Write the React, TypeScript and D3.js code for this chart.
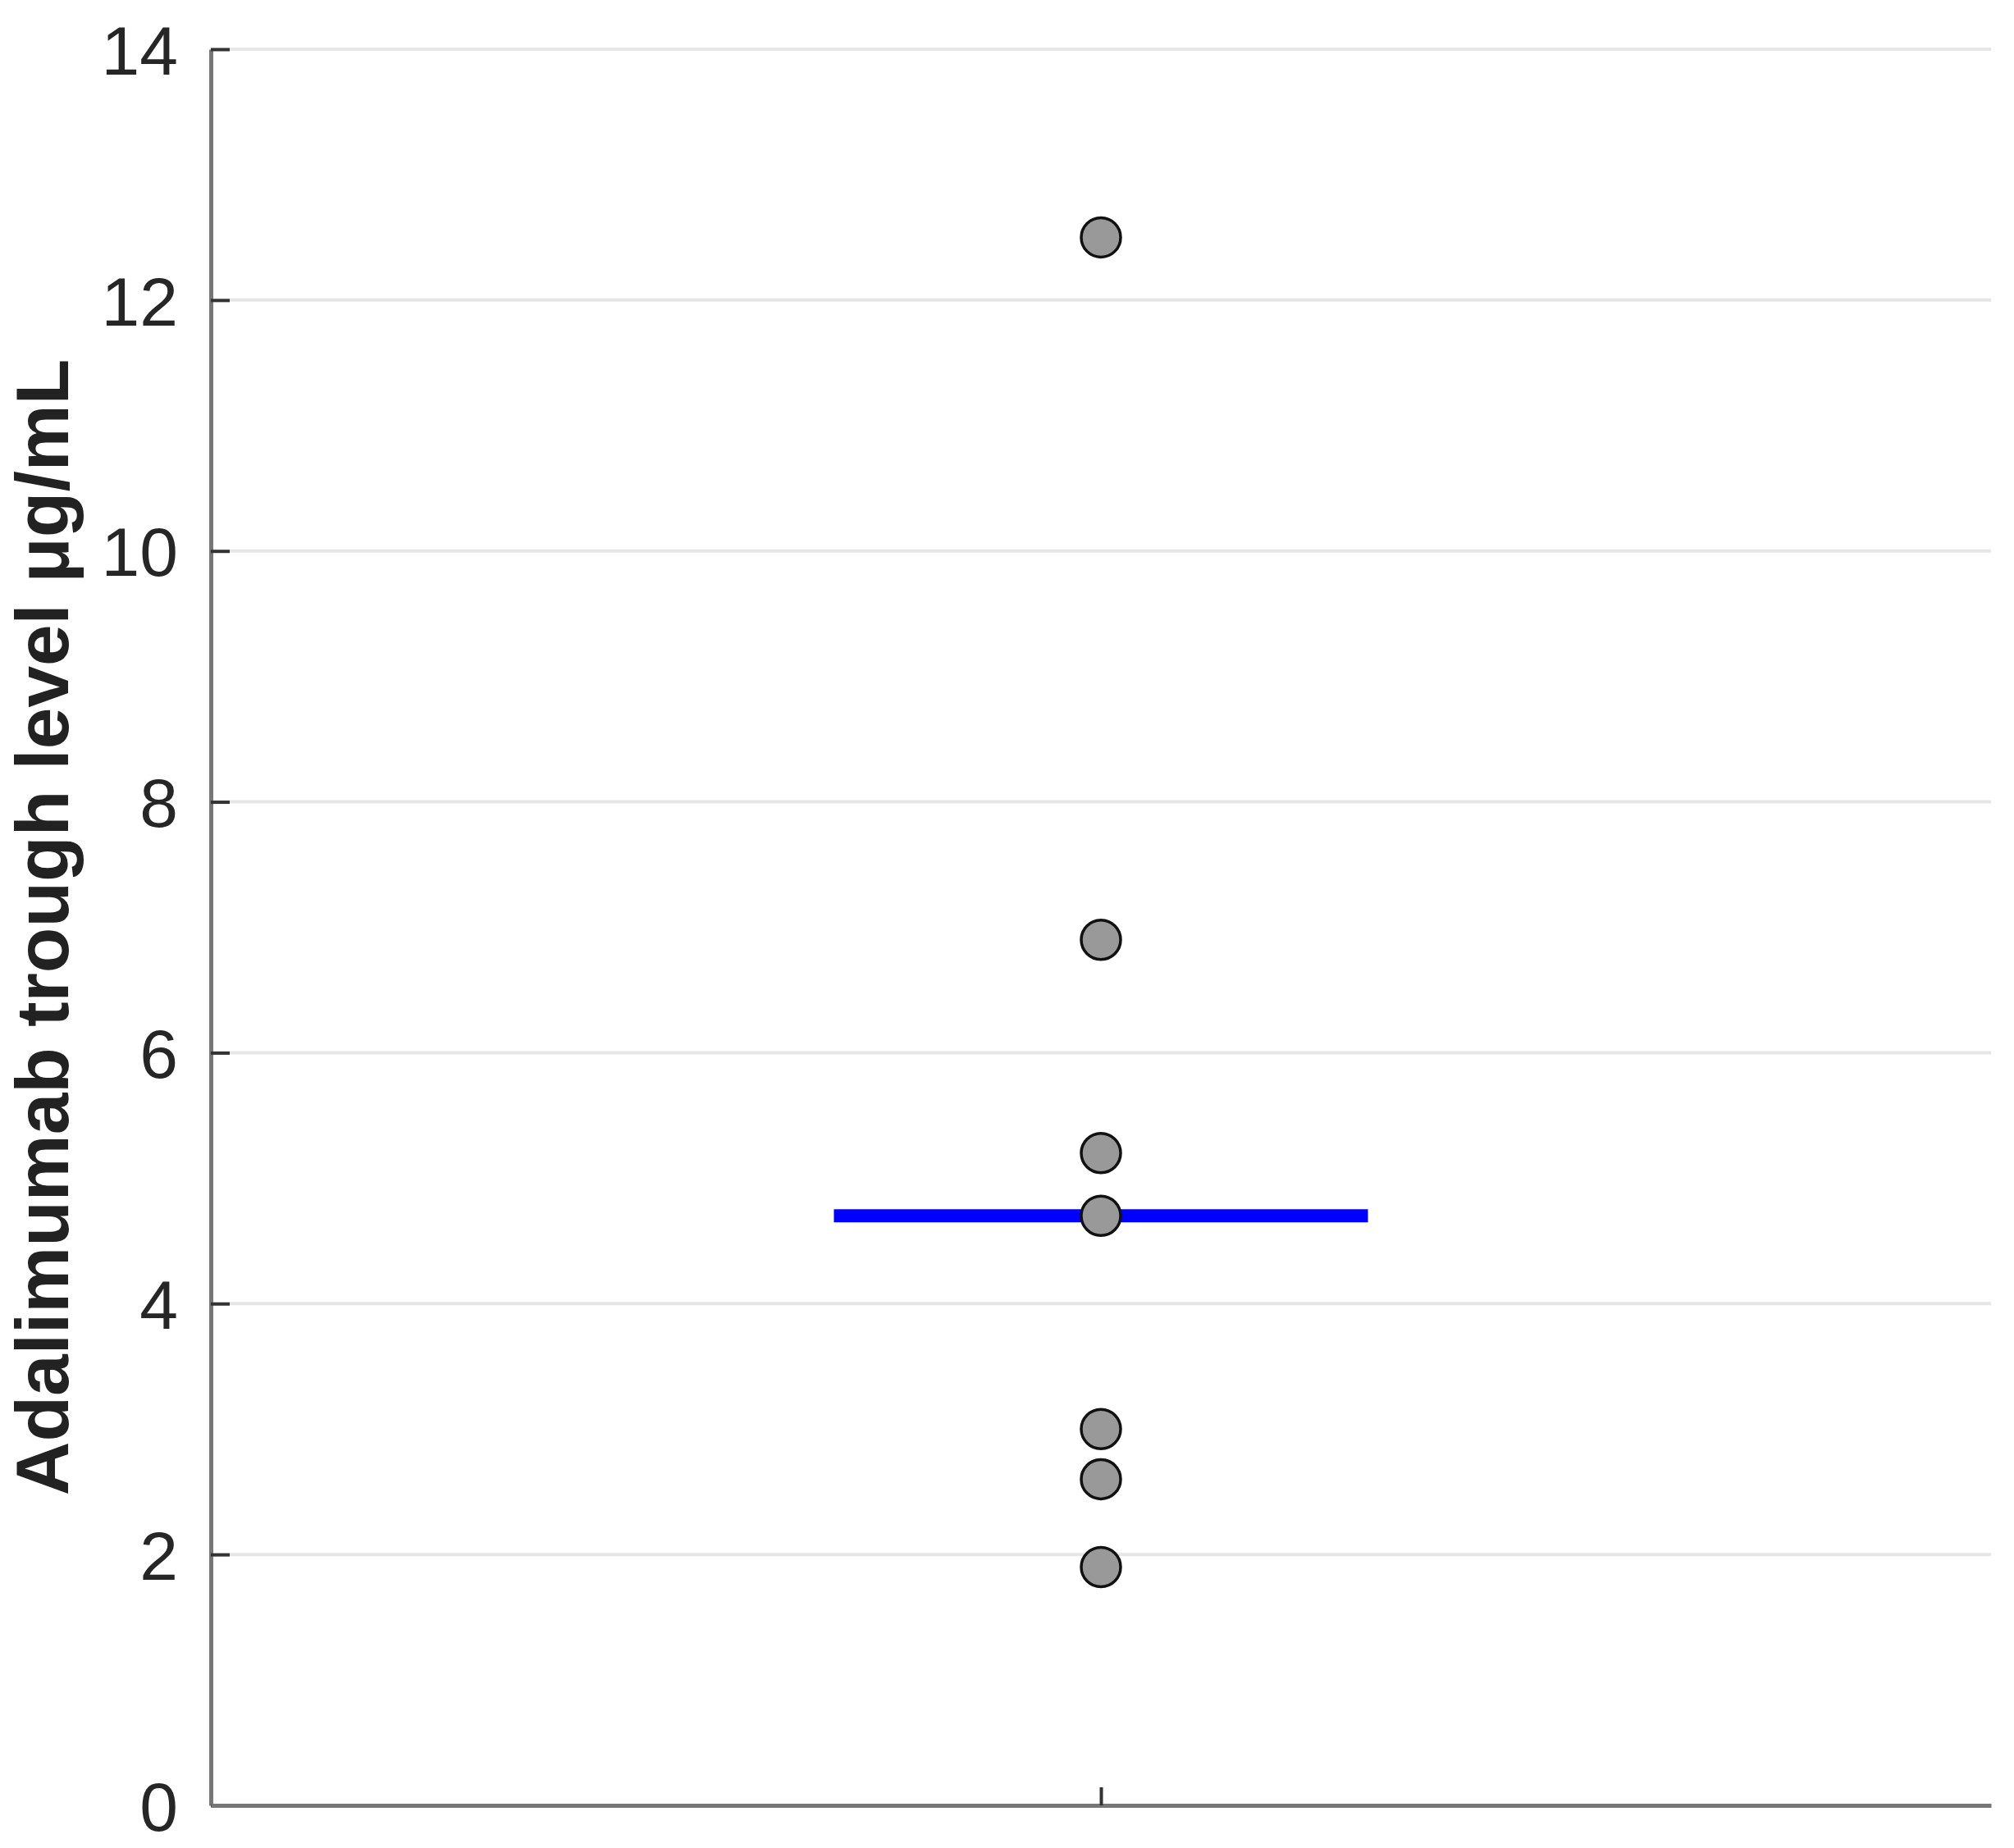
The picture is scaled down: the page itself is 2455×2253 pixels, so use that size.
import React, { useEffect, useRef } from 'react';
import * as d3 from 'd3';

// trough levels (µg/mL)
const troughLevels = [12.5, 6.9, 5.2, 4.7, 3.0, 2.6, 1.9];
const groupPosition = [1];
const yTicks = [0, 2, 4, 6, 8, 10, 12, 14];
const yLabel = 'Adalimumab trough level μg/mL';

const W = 2455;
const H = 2253;

export default function App() {
  const ref = useRef<SVGSVGElement>(null);

  useEffect(() => {
    const svg = d3.select(ref.current);
    svg.selectAll('*').remove();

    const x = d3.scaleLinear().domain([0, 2]).range([257, 2427]);
    const y = d3.scaleLinear().domain([0, 14]).range([2201, 60]);
    const font = '"Liberation Sans", Arial, sans-serif';

    // grid
    svg
      .append('g')
      .selectAll('line')
      .data(yTicks.filter((t) => t > 0))
      .enter()
      .append('line')
      .attr('x1', x(0))
      .attr('x2', x(2))
      .attr('y1', (d) => y(d))
      .attr('y2', (d) => y(d))
      .style('stroke', '#e6e6e6')
      .style('stroke-width', 4);

    // y axis, ticks point inward
    const yAxis = svg
      .append('g')
      .attr('transform', `translate(${x(0)},0)`)
      .call(d3.axisLeft(y).tickValues(yTicks).tickSize(-23).tickPadding(40).tickSizeOuter(0));
    yAxis.select('.domain').style('stroke', '#777').style('stroke-width', 5);
    yAxis.selectAll('.tick line').style('stroke', '#333').style('stroke-width', 4);
    yAxis
      .selectAll('.tick text')
      .style('font-family', font)
      .style('font-size', '84px')
      .style('fill', '#262626')
      .attr('dy', '0.36em');

    // x axis, one tick in the middle
    const xAxis = svg
      .append('g')
      .attr('transform', `translate(0,${y(0)})`)
      .call(d3.axisBottom(x).tickValues(groupPosition).tickSize(-22).tickFormat(() => '').tickSizeOuter(0));
    xAxis.select('.domain').style('stroke', '#777').style('stroke-width', 5);
    xAxis.selectAll('.tick line').style('stroke', '#333').style('stroke-width', 4);

    // median line
    const median = d3.median(troughLevels) as number;
    svg
      .append('line')
      .attr('x1', x(groupPosition[0] - 0.3))
      .attr('x2', x(groupPosition[0] + 0.3))
      .attr('y1', y(median))
      .attr('y2', y(median))
      .style('stroke', '#0000ff')
      .style('stroke-width', 16);

    // points
    svg
      .append('g')
      .selectAll('circle')
      .data(troughLevels)
      .enter()
      .append('circle')
      .attr('cx', x(groupPosition[0]))
      .attr('cy', (d) => y(d))
      .attr('r', 24)
      .style('fill', '#999999')
      .style('stroke', '#111')
      .style('stroke-width', 3.5);

    // y label
    svg
      .append('text')
      .attr('transform', `translate(83,${(y(0) + y(14)) / 2}) rotate(-90)`)
      .attr('text-anchor', 'middle')
      .style('font-family', font)
      .style('font-weight', 'bold')
      .style('font-size', '91px')
      .style('fill', '#222')
      .text(yLabel);
  }, []);

  return (
    <svg
      ref={ref}
      width={W}
      height={H}
      style={{ position: 'absolute', left: 0, top: 0, background: '#fff' }}
    />
  );
}
